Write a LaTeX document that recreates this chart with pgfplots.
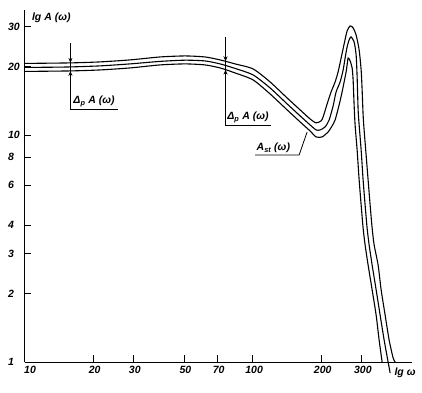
\documentclass[border=0pt]{standalone}
\usepackage{pgfplots}
\pgfplotsset{compat=1.18}
\usepackage{fontspec}
\setmainfont{Liberation Sans}
\usetikzlibrary{arrows.meta}
\newcommand{\lf}{\fontsize{10.5}{12}\selectfont\bfseries\itshape}
\begin{document}
\begin{tikzpicture}
\begin{axis}[
  scale only axis, width=387.5pt, height=352pt,
  xmode=log, ymode=log,
  xmin=10, xmax=500, ymin=1, ymax=35.5,
  axis x line=bottom, axis y line=left,
  axis line style={-, line width=0.9pt},
  xtick={10,20,30,50,70,100,200,300},
  xticklabels={\hspace{8pt}10,20,30,50,70,100,200,300},
  ytick={1,2,3,4,6,8,10,20,30},
  yticklabels={1,2,3,4,6,8,10,20,30},
  minor xtick={}, minor ytick={},
  tick align=inside,
  major tick length=7pt,
  tick style={line width=0.8pt, black},
  ticklabel style={font=\lf},
  yticklabel style={anchor=west, xshift=-20pt},
  xticklabel style={anchor=north, yshift=-1pt, xshift=1.5pt},
  clip=false,
]
% upper curve
\addplot[smooth, tension=0.4, line width=1.1pt, black] coordinates {
(10,20.65) (15.84,20.76) (21.43,20.97) (29.02,21.40) (39.30,22.05) (50.56,22.28)
(61.88,22.05) (72.03,21.40) (83.82,20.55) (100.5,19.53) (119.3,17.12) (141.7,14.55)
(161.6,12.89) (178.7,11.76) (189.9,11.30) (199.7,11.53) (203.8,12.00) (212.3,13.70)
(220.9,15.47) (230.1,17.12) (237.1,18.95) (244.5,21.83) (252.0,25.17) (259.7,28.72)
(267.7,30.21) (275.9,29.61) (284.4,27.57) (293.2,23.68) (299.2,19.33) (302.2,15.79)
(305.2,12.25) (308.3,10.52) (314.6,8.165) (321.0,6.34) (327.6,4.92) (334.3,3.89)
(341.1,3.28) (355.1,2.675) (366.1,2.08) (381.2,1.61) (396.9,1.25) (413.3,1.041) (421.7,1.0)
};
% middle curve
\addplot[smooth, tension=0.4, line width=1.1pt, black] coordinates {
(10,19.83) (12.94,19.87) (15.84,19.93) (21.43,20.14) (29.02,20.55) (39.30,21.08)
(50.56,21.34) (61.88,21.18) (72.03,20.55) (83.82,19.63) (100.5,18.38) (119.3,16.11)
(141.7,13.70) (161.6,12.13) (178.7,11.07) (189.9,10.52) (197.8,10.52) (208.0,10.85)
(216.6,11.64) (225.5,13.42) (232.4,15.47) (242.0,17.12) (249.5,19.33) (254.5,21.83)
(259.7,24.42) (265.0,26.21) (270.4,27.02) (278.7,25.68) (284.4,22.51) (287.3,18.01)
(290.2,12.89) (293.2,11.07) (299.2,8.59) (305.2,6.34) (311.4,4.92) (317.8,3.89)
(324.3,3.28) (334.3,2.675) (348.1,2.08) (362.4,1.61) (377.4,1.25) (392.9,1.0) (401.0,0.894)
};
% lower curve
\addplot[smooth, tension=0.4, line width=1.1pt, black] coordinates {
(10,19.04) (15.84,19.14) (21.43,19.33) (29.02,19.73) (39.30,20.34) (50.56,20.55)
(61.88,20.34) (72.03,19.73) (83.82,18.75) (100.5,17.47) (119.3,15.16) (141.7,12.89)
(161.6,11.41) (178.7,10.41) (189.9,9.80) (201.7,9.80) (214.4,10.31) (223.2,10.96)
(230.1,11.64) (239.6,13.56) (246.9,15.47) (252.0,17.12) (257.1,18.95) (259.7,20.34)
(262.4,21.83) (267.7,21.18) (273.2,19.73) (275.9,17.47) (278.7,13.56) (281.5,11.07)
(287.3,8.59) (293.2,6.34) (299.2,4.92) (305.2,3.89) (311.4,3.28) (321.0,2.675)
(334.3,2.08) (348.1,1.61) (358.8,1.25) (369.8,1.0)
};
% annotation 1
\draw[line width=0.8pt] (axis cs:15.9,25.4) -- (axis cs:15.9,13.0) -- (axis cs:25.7,13.0);
\draw[line width=0.8pt, -{Stealth[length=5pt,width=4pt]}] (axis cs:15.9,23.5) -- (axis cs:15.9,20.76);
\draw[line width=0.8pt, -{Stealth[length=5pt,width=4pt]}] (axis cs:15.9,16.8) -- (axis cs:15.9,19.14);
\node[anchor=south west, inner sep=1pt, font=\lf] at (axis cs:16.2,13.1) {Δ\textsubscript{p} A (ω)};
% annotation 2
\draw[line width=0.8pt] (axis cs:76.1,27.0) -- (axis cs:76.1,11.07) -- (axis cs:120,11.07);
\draw[line width=0.8pt, -{Stealth[length=5pt,width=4pt]}] (axis cs:76.1,24.0) -- (axis cs:76.1,21.1);
\draw[line width=0.8pt, -{Stealth[length=5pt,width=4pt]}] (axis cs:76.1,16.9) -- (axis cs:76.1,19.4);
\node[anchor=south west, inner sep=1pt, font=\lf] at (axis cs:76.6,11.2) {Δ\textsubscript{p} A (ω)};
% annotation 3
\draw[line width=0.8pt] (axis cs:102.6,8.16) -- (axis cs:160,8.16) -- (axis cs:173.4,10.3);
\node[anchor=south west, inner sep=1pt, font=\lf] at (axis cs:103,8.25) {A\textsubscript{st} (ω)};
% axis titles
\node[anchor=west, inner sep=0pt, font=\lf] at (axis description cs:0.019,0.977) {lg A (ω)};
\node[inner sep=0pt, font=\lf] at (axis description cs:0.982,-0.031) {lg ω};
\end{axis}
\pgfresetboundingbox
\path[use as bounding box] (-24.5pt,-30pt) rectangle (397.5pt,362pt);
\end{tikzpicture}
\end{document}
